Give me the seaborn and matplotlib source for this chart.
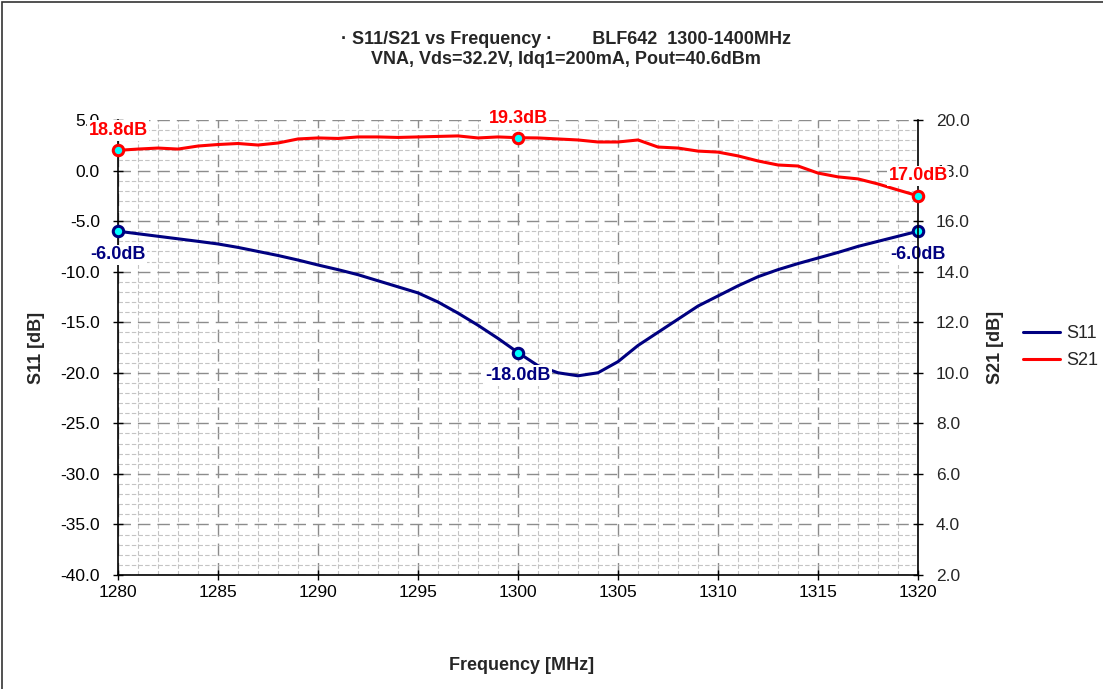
import pandas as pd
import matplotlib.pyplot as plt
import matplotlib.ticker as mticker
from matplotlib.lines import Line2D
import seaborn as sns

# frequency points [MHz]
freq = list(range(1280, 1321))

# S11 [dB]
s11 = [-6.0, -6.25, -6.5, -6.75, -7.0, -7.26, -7.6, -8.0, -8.4, -8.85,
       -9.34, -9.8, -10.3, -10.9, -11.5, -12.1, -13.0, -14.1, -15.3, -16.6,
       -18.0, -19.3, -20.0, -20.3, -20.0, -18.9, -17.3, -16.0, -14.7, -13.4,
       -12.4, -11.4, -10.5, -9.8, -9.2, -8.65, -8.1, -7.5, -7.0, -6.5,
       -6.0]

# S21 [dB]
s21 = [18.8, 18.85, 18.89, 18.85, 18.97, 19.03, 19.07, 19.01, 19.09, 19.25,
       19.29, 19.27, 19.33, 19.33, 19.31, 19.33, 19.35, 19.37, 19.29, 19.33,
       19.3, 19.29, 19.25, 19.21, 19.13, 19.13, 19.21, 18.93, 18.89, 18.77,
       18.73, 18.58, 18.38, 18.22, 18.18, 17.90, 17.75, 17.67, 17.47, 17.23,
       17.0]

marker_idx = [0, 20, 40]

s11_ticks = [-40, -35, -30, -25, -20, -15, -10, -5, 0, 5]
s21_ticks = [2, 4, 6, 8, 10, 12, 14, 16, 18, 20]
freq_ticks = [1280, 1285, 1290, 1295, 1300, 1305, 1310, 1315, 1320]

df = pd.DataFrame({"Frequency": freq, "S11": s11, "S21": s21})

sns.set_style("white")
plt.rcParams["font.family"] = ["Liberation Sans", "DejaVu Sans"]

NAVY = "#000080"
RED = "#ff0000"
CYAN = "#00ffff"

fig = plt.figure(figsize=(11.03, 6.89), dpi=100)
ax = fig.add_axes([118 / 1103, 1 - 575 / 689, 800 / 1103, 455 / 689])
ax2 = ax.twinx()

sns.lineplot(data=df, x="Frequency", y="S11", ax=ax, color=NAVY, lw=2.2,
             marker="o", markevery=marker_idx, markersize=7.5,
             markerfacecolor=CYAN, markeredgecolor=NAVY, markeredgewidth=2.2,
             clip_on=False, zorder=4)
sns.lineplot(data=df, x="Frequency", y="S21", ax=ax2, color=RED, lw=2.2,
             marker="o", markevery=marker_idx, markersize=7.5,
             markerfacecolor=CYAN, markeredgecolor=RED, markeredgewidth=2.2,
             clip_on=False, zorder=4)

ax.set_xlim(1280, 1320)
ax.set_ylim(-40, 5)
ax2.set_ylim(2, 20)

ax.set_xticks(freq_ticks)
ax.set_yticks(s11_ticks)
ax2.set_yticks(s21_ticks)
ax.yaxis.set_major_formatter(mticker.FormatStrFormatter("%.1f"))
ax2.yaxis.set_major_formatter(mticker.FormatStrFormatter("%.1f"))
ax.xaxis.set_minor_locator(mticker.MultipleLocator(1))
ax.yaxis.set_minor_locator(mticker.MultipleLocator(1))

# grid
ax.grid(True, which="major", color="#8c8c8c", lw=1.0, ls=(0, (9, 5)))
ax.grid(True, which="minor", color="#c4c4c4", lw=0.8, ls=(0, (4, 2)))
ax.set_axisbelow(True)

ax.tick_params(axis="both", which="major", direction="inout", length=7.2,
               width=1, color="black", labelsize=12.5, labelcolor="black")
ax.tick_params(axis="y", which="major", pad=9.4, left=True)
ax.tick_params(axis="x", which="major", pad=3.6, bottom=True)
ax.tick_params(which="minor", length=0)
ax2.tick_params(axis="y", which="major", direction="inout", length=7.2,
                width=1, color="black", labelsize=12.5, pad=9.4, right=True)

for sp in ["top", "right"]:
    ax.spines[sp].set_visible(False)
for sp in ["top", "left", "bottom"]:
    ax2.spines[sp].set_visible(False)
for sp in [ax.spines["left"], ax.spines["bottom"], ax2.spines["right"]]:
    sp.set_color("black")
    sp.set_linewidth(1.2)

ax.set_xlabel("Frequency [MHz]", fontsize=13, fontweight="bold")
ax.set_ylabel("S11 [dB]", fontsize=13, fontweight="bold")
ax2.set_ylabel("S21 [dB]", fontsize=13, fontweight="bold")
ax.xaxis.set_label_coords(0.504, -0.18)
ax.yaxis.set_label_coords(-0.091, 0.5)
ax2.yaxis.set_label_coords(1.086, 0.5)

# data labels
box = dict(boxstyle="square,pad=0.1", fc="white", ec="none")
for i, dy in zip(marker_idx, [14.4, 13.7, 14.4]):
    ax2.annotate(f"{s21[i]:.1f}dB", (freq[i], s21[i]), xytext=(0, dy),
                 textcoords="offset points", ha="center", va="center",
                 fontsize=13, fontweight="bold", color=RED, bbox=box,
                 annotation_clip=False, zorder=6)
for i, dy in zip(marker_idx, [-17.0, -16.6, -16.6]):
    ax.annotate(f"{s11[i]:.1f}dB", (freq[i], s11[i]), xytext=(0, dy),
                textcoords="offset points", ha="center", va="center",
                fontsize=13, fontweight="bold", color=NAVY, bbox=box,
                annotation_clip=False, zorder=6)

# title
fig.text(0.513, 1 - 39 / 689,
         "\u00b7 S11/S21 vs Frequency \u00b7        BLF642  1300-1400MHz",
         ha="center", va="center", fontsize=13, fontweight="bold")
fig.text(0.513, 1 - 59 / 689, "VNA, Vds=32.2V, Idq1=200mA, Pout=40.6dBm",
         ha="center", va="center", fontsize=13, fontweight="bold")

# legend
handles = [Line2D([], [], color=NAVY, lw=2.2), Line2D([], [], color=RED, lw=2.2)]
fig.legend(handles, ["S11", "S21"], loc="center left",
           bbox_to_anchor=(1023 / 1103, 1 - 347 / 689), frameon=False,
           fontsize=13, handlelength=2.05, handletextpad=0.35,
           labelspacing=0.55, borderpad=0, borderaxespad=0)

# outer chart border
fig.patches.append(plt.Rectangle((0.0018, -0.01), 1.01, 1.007, transform=fig.transFigure,
                                 fill=False, edgecolor="#333333", lw=1.2))

fig.savefig("out.png", dpi=100)
